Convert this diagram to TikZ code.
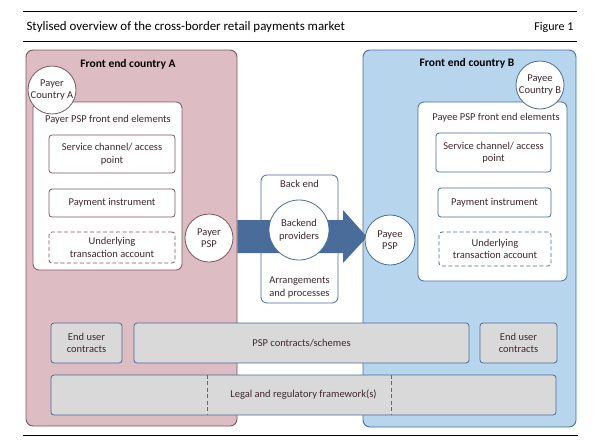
\documentclass[tikz,border=0pt]{standalone}
\usepackage{fontspec}
\setmainfont{Carlito}
\usepackage{tikz}
\definecolor{frontAfill}{RGB}{221,188,195}
\definecolor{frontAline}{RGB}{120,86,94}
\definecolor{frontBfill}{RGB}{184,213,238}
\definecolor{frontBline}{RGB}{74,108,155}
\definecolor{schemefill}{RGB}{217,217,217}
\definecolor{labeltext}{RGB}{62,40,46}
\tikzset{
  frontbox/.style={draw, rounded corners=7pt, line width=0.9pt, inner sep=0pt},
  elembox/.style={draw, fill=white, rounded corners=6pt, line width=0.8pt, inner sep=0pt},
  itembox/.style={draw, fill=white, rounded corners=3pt, line width=0.8pt, inner sep=0pt, align=center},
  pspcircle/.style={draw, circle, fill=white, line width=0.8pt, inner sep=0pt, align=center},
  schemebox/.style={draw=frontBline, fill=schemefill, rounded corners=3pt, line width=0.8pt, inner sep=0pt, align=center},
  rulerline/.style={line width=0.8pt, black},
  longdash/.style={dash pattern=on 4pt off 2.5pt},
  headlabel/.style={font=\bfseries\fontsize{11.5}{13}\selectfont, text=black}
}

\begin{document}
\begin{tikzpicture}[x=1pt, y=-1pt, font=\fontsize{10.5}{12.5}\selectfont, text=labeltext]
		\useasboundingbox (0,0) rectangle (604,442);

		\draw[rulerline] (23,11) -- (577,11);
		\draw[rulerline] (23,41) -- (577,41);
		\draw[rulerline] (23,435) -- (578,435);
		\node[anchor=base west, font=\fontsize{12.9}{14}\selectfont, text=black] (title) at (23,30) {Stylised overview of the cross-border retail payments market};
		\node[anchor=base east, font=\fontsize{12}{14}\selectfont, text=black] (fignum) at (577,30) {Figure 1};

		\node[frontbox, fill=frontAfill, draw=frontAline, minimum width=211, minimum height=376] (frontA) at (131.5,238) {};
		\node[frontbox, fill=frontBfill, draw=frontBline, minimum width=213, minimum height=377] (frontB) at (469.5,238.5) {};
		\node[headlabel] (headA) at (128,64) {Front end country A};
		\node[headlabel] (headB) at (467,63) {Front end country B};

		\node[elembox, draw=frontAline, minimum width=149, minimum height=168] (elemA) at (107.5,186) {};
		\node[elembox, draw=frontBline, minimum width=149, minimum height=179] (elemB) at (492.5,191.5) {};
		\node[pspcircle, draw=frontAline, minimum size=48] (payerC) at (52,90) {};
		\node[align=center] (payerCtxt) at (payerC) {Payer\\Country A};
		\node[pspcircle, draw=frontBline, minimum size=48] (payeeC) at (540,85) {};
		\node[align=center] (payeeCtxt) at (payeeC) {Payee\\Country B};
		\node (elemAtxt) at (108,120) {Payer PSP front end elements};
		\node (elemBtxt) at (496,118) {Payee PSP front end elements};

		\node[itembox, draw=frontAline, minimum width=126, minimum height=38] (chanA) at (112,154) {Service channel/ access\\point};
		\node[itembox, draw=frontAline, minimum width=126, minimum height=28] (instrA) at (112,203) {Payment instrument};
		\node[itembox, draw=frontAline, longdash, minimum width=126, minimum height=31] (acctA) at (112,247.5) {Underlying\\transaction account};
		\node[itembox, draw=frontBline, minimum width=115, minimum height=39] (chanB) at (493.5,152.5) {Service channel/ access\\point};
		\node[itembox, draw=frontBline, minimum width=113, minimum height=29] (instrB) at (494.5,202.5) {Payment instrument};
		\node[itembox, draw=frontBline, longdash, minimum width=112, minimum height=34] (acctB) at (495,249) {Underlying\\transaction account};

		\node[itembox, draw=frontBline, rounded corners=6pt, minimum width=77, minimum height=128] (backend) at (299.5,239) {};
		\node[anchor=north] (backtxt) at (backend.north) [yshift=-2pt] {Back end};
		\node[anchor=south, align=center] (arrtxt) at (backend.south) [yshift=2pt] {Arrangements\\and processes};

		\fill[frontBline] (frontA.east |- 0,220) -- (343,220) -- (343,210) -- (367,237) -- (343,263) -- (343,253) -- (frontA.east |- 0,253) -- cycle;

		\node[pspcircle, draw=frontBline, minimum size=60] (bprov) at (299,230) {Backend\\providers};
		\node[pspcircle, draw=frontAline, minimum size=48] (payerPSP) at (209,238) {Payer\\PSP};
		\node[pspcircle, draw=frontBline, minimum size=50] (payeePSP) at (390,240) {Payee\\PSP};

		\node[schemebox, minimum width=71, minimum height=40] (userA) at (86.5,343) {End user\\contracts};
		\node[schemebox, minimum width=335, minimum height=40] (pspscheme) at (301.5,343) {PSP contracts/schemes};
		\node[schemebox, minimum width=77, minimum height=40] (userB) at (518.5,343) {End user\\contracts};
		\node[schemebox, minimum width=505, minimum height=40] (legal) at (303.5,395) {Legal and regulatory framework(s)};
		\draw[frontBline, longdash, line width=0.8pt] (legal.north -| 207,0) -- (legal.south -| 207,0);
		\draw[frontBline, longdash, line width=0.8pt] (legal.north -| 391,0) -- (legal.south -| 391,0);
	\end{tikzpicture}
\end{document}
